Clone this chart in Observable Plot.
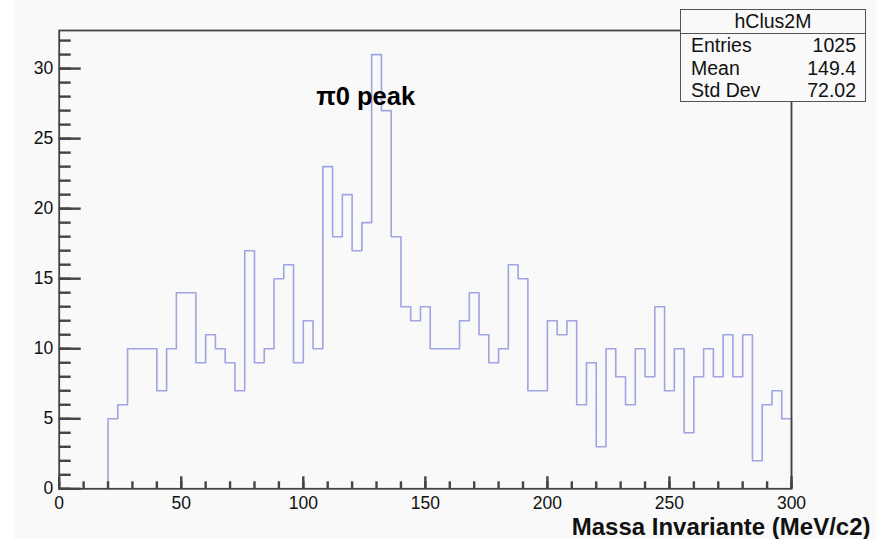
<!DOCTYPE html>
<html><head><meta charset="utf-8">
<script src="https://cdn.jsdelivr.net/npm/d3@7"></script>
<script src="https://cdn.jsdelivr.net/npm/@observablehq/plot@0.6"></script>
<style>
html,body{margin:0;padding:0;background:#fff;}
#wrap{position:relative;width:876px;height:539px;background:linear-gradient(to right,#fff 0,#fff 14px,#f9f9f9 14px);overflow:hidden}
#stats{position:absolute;left:680px;top:9px;width:186px;height:93px;border:1.5px solid #555;background:#f9f9f9;
  font-family:"Liberation Sans",Arial,sans-serif;font-size:19.5px;color:#111;box-sizing:border-box}
#stats .hd{height:23px;line-height:23px;text-align:center;border-bottom:1.5px solid #555}
#stats .row{display:flex;justify-content:space-between;padding:0 9px 0 10px;height:22.5px;line-height:23px}
</style></head>
<body>
<div id="wrap"></div>
<script>
// Histogram data (bin width 4 MeV/c2, first filled bin starts at 20)
const binStarts = d3.range(20, 300, 4);
const counts = [5,6,10,10,10,7,10,14,14,9,11,10,9,7,17,9,10,15,16,9,12,10,
  23,18,21,17,19,31,27,18,13,12,13,10,10,10,12,14,11,9,10,16,15,7,7,12,11,12,6,9,3,
  10,8,6,10,8,13,7,10,4,8,10,8,11,8,11,2,6,7,5];
const binWidth = 4;
const xMajorTicks = [0,50,100,150,200,250,300];
const xMinorTicks = d3.range(0, 301, 10);
const yMajorTicks = [0,5,10,15,20,25,30];
const yMinorTicks = d3.range(0, 33, 1);
const histName = "hClus2M";
const statLabels = ["Entries","Mean","Std Dev"];
const statValues = ["1025","149.4","72.02"];
const annotation = [{x:105.3, y:28, text:"π0 peak"}];
const xLabel = "Massa Invariante (MeV/c2)";

// step outline points
const pts = [{x: binStarts[0], y: 0}];
binStarts.forEach((b, i) => pts.push({x: b, y: counts[i]}));
pts.push({x: binStarts[binStarts.length-1] + binWidth, y: counts[counts.length-1]});
pts.push({x: binStarts[binStarts.length-1] + binWidth, y: 0});

const axisColor = "#444";
const font = '"Liberation Sans",Arial,sans-serif';

const chart = Plot.plot({
  width: 876, height: 539,
  marginLeft: 58.7, marginRight: 85, marginTop: 30, marginBottom: 50.7,
  style: {fontFamily: font, fontSize: "17.5px", color: "#111", background: "transparent"},
  x: {domain: [0, 300]},
  y: {domain: [0, 32.72]},
  marks: [
    Plot.line(pts, {x: "x", y: "y", curve: "step-after", stroke: "#9ea5e2", strokeWidth: 1.6}),
    // inward ticks (ROOT style)
    Plot.axisY(yMinorTicks, {tickSize: 12, dx: 12, text: null, label: null, stroke: axisColor, strokeWidth: 2.4}),
    Plot.axisY(yMajorTicks, {tickSize: 22, dx: 22, text: null, label: null, stroke: axisColor, strokeWidth: 2.4}),
    Plot.axisX(xMinorTicks, {tickSize: -7, text: null, label: null, stroke: axisColor, strokeWidth: 2.4}),
    Plot.axisX(xMajorTicks, {tickSize: -12, text: null, label: null, stroke: axisColor, strokeWidth: 2.4}),
    Plot.axisY(yMajorTicks, {tickSize: 0, tickPadding: 6, label: null, fontSize: 17.5}),
    Plot.axisX(xMajorTicks, {tickSize: 0, tickPadding: 8, label: null, fontSize: 17.5}),
    Plot.frame({stroke: axisColor, strokeWidth: 1.8}),
    Plot.text(annotation, {x: "x", y: "y", text: "text", textAnchor: "start", fontWeight: "bold", fontSize: 25.5, fill: "#000"}),
    Plot.text([xLabel], {frameAnchor: "bottom-right", textAnchor: "end", lineAnchor: "bottom", dx: 79, dy: 46, fontWeight: "bold", fontSize: 24, fill: "#111"})
  ]
});
chart.style.position = "absolute";
chart.style.left = "0"; chart.style.top = "0";
const wrap = document.getElementById("wrap");
wrap.appendChild(chart);

const stats = document.createElement("div");
stats.id = "stats";
const hd = document.createElement("div");
hd.className = "hd"; hd.textContent = histName;
stats.appendChild(hd);
statLabels.forEach((l, i) => {
  const r = document.createElement("div");
  r.className = "row";
  const a = document.createElement("span"); a.textContent = l;
  const b = document.createElement("span"); b.textContent = statValues[i];
  r.appendChild(a); r.appendChild(b);
  stats.appendChild(r);
});
wrap.appendChild(stats);
</script>
</body></html>
